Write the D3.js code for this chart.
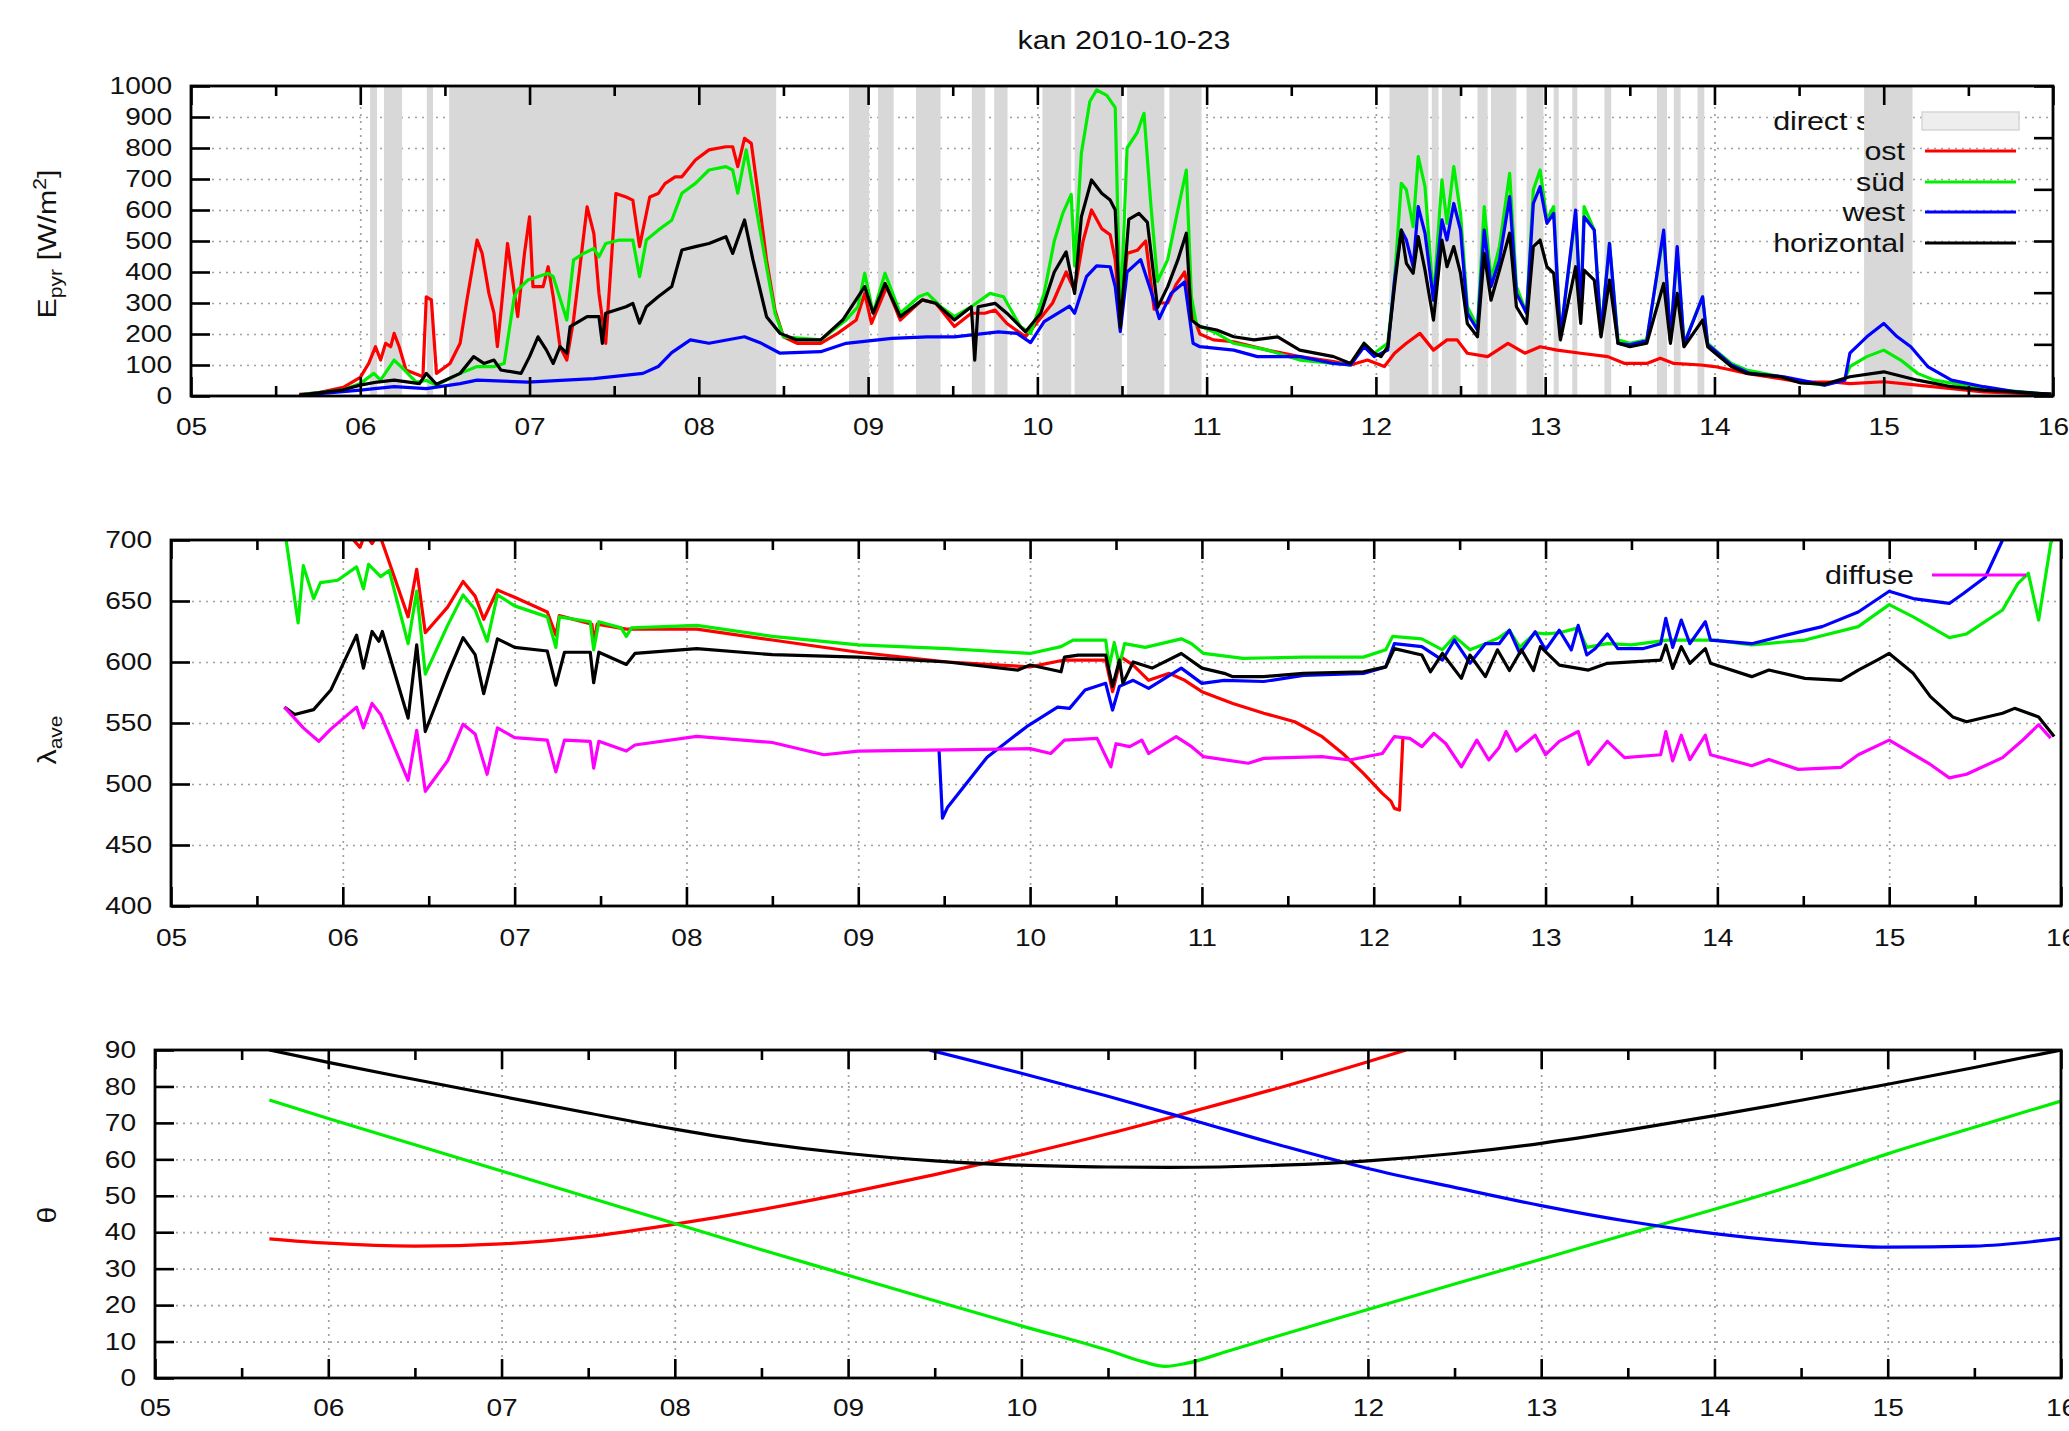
<!DOCTYPE html>
<html><head><meta charset="utf-8">
<script src="https://cdn.jsdelivr.net/npm/d3@7"></script>
<style>
html,body{margin:0;padding:0;background:#fff;}
svg{display:block;}
text{font-family:"Liberation Sans",Arial,Helvetica,sans-serif;fill:#111;}
</style>
</head><body>
<svg id="chart" width="2069" height="1431"></svg>
<script>
// ---------------- DATA ----------------
const titleText = "kan 2010-10-23";
const hourTicks = [5,6,7,8,9,10,11,12,13,14,15,16];
const hourLabels = ["05","06","07","08","09","10","11","12","13","14","15","16"];
const halfHourTicks = [5.5,6.5,7.5,8.5,9.5,10.5,11.5,12.5,13.5,14.5,15.5];
const topYTicks = [0,100,200,300,400,500,600,700,800,900,1000];
const topY2Ticks = [0,15,30,45,60,75,90];
const midYTicks = [400,450,500,550,600,650,700];
const botYTicks = [0,10,20,30,40,50,60,70,80,90];
const seriesNames = ["ost","süd","west","horizontal"];
const directSunName = "direct sun";
const diffuseName = "diffuse";

// direct sun intervals [start hour, end hour]
const directSun = [[6.058,6.099],[6.14,6.247],[6.393,6.43],[6.525,8.457],[8.887,9.006],[9.059,9.151],
 [9.283,9.428],[9.613,9.692],[9.745,9.824],[10.03,10.20],[10.22,10.50],[10.53,10.75],[10.78,10.97],
 [12.08,12.31],[12.33,12.37],[12.39,12.50],[12.60,12.66],[12.68,12.83],[12.89,12.99],[13.05,13.08],
 [13.16,13.19],[13.35,13.39],[13.66,13.72],[13.76,13.80],[13.90,13.94],[14.884,15.17]];

// top panel: E_pyr [W/m2]
const topOst = [[5.64,5],[5.75,10],[5.9,28],[6.0,60],[6.05,105],[6.09,159],[6.12,116],[6.15,170],[6.18,159],[6.2,202],[6.23,159],[6.27,84],[6.37,62],[6.39,320],[6.42,310],[6.45,73],[6.53,105],[6.59,170],[6.63,310],[6.69,503],[6.72,460],[6.76,331],[6.79,267],[6.81,159],[6.83,267],[6.87,492],[6.93,256],[6.97,460],[7.0,578],[7.02,353],[7.08,353],[7.11,417],[7.14,320],[7.18,159],[7.22,116],[7.26,245],[7.34,610],[7.38,524],[7.41,331],[7.45,170],[7.51,653],[7.57,642],[7.61,632],[7.65,482],[7.71,642],[7.76,653],[7.8,685],[7.86,707],[7.90,707],[7.98,761],[8.06,794],[8.16,804],[8.20,804],[8.23,740],[8.27,831],[8.31,815],[8.35,654],[8.40,439],[8.45,277],[8.50,191],[8.58,170],[8.72,170],[8.82,202],[8.93,245],[8.98,331],[9.02,234],[9.11,353],[9.19,245],[9.32,310],[9.40,299],[9.51,224],[9.61,267],[9.69,267],[9.75,277],[9.82,234],[9.93,191],[10.01,245],[10.09,300],[10.17,400],[10.22,340],[10.27,500],[10.32,600],[10.38,540],[10.43,520],[10.46,439],[10.49,230],[10.53,460],[10.59,470],[10.64,500],[10.69,280],[10.72,300],[10.77,300],[10.82,360],[10.87,400],[10.92,260],[10.96,200],[11.04,181],[11.16,175],[11.36,148],[11.55,127],[11.75,111],[11.85,100],[11.95,116],[12.05,95],[12.11,138],[12.18,170],[12.26,202],[12.34,148],[12.42,181],[12.48,181],[12.54,138],[12.66,127],[12.78,170],[12.88,138],[12.97,159],[13.07,148],[13.21,138],[13.37,127],[13.47,105],[13.60,105],[13.68,122],[13.76,105],[13.92,100],[14.0,95],[14.10,84],[14.19,73],[14.39,56],[14.51,45],[14.71,45],[14.80,40],[15.0,46],[15.2,35],[15.59,13],[15.99,5]];
const topSud = [[5.64,4],[5.9,20],[6.0,40],[6.08,73],[6.12,51],[6.2,116],[6.26,84],[6.33,45],[6.39,50],[6.45,35],[6.59,73],[6.69,95],[6.79,95],[6.85,105],[6.91,320],[6.93,342],[6.99,374],[7.11,396],[7.14,385],[7.22,245],[7.26,439],[7.32,460],[7.38,476],[7.41,449],[7.45,492],[7.53,503],[7.61,503],[7.65,385],[7.69,503],[7.76,535],[7.84,567],[7.90,654],[7.98,686],[8.06,729],[8.16,740],[8.20,729],[8.23,654],[8.28,794],[8.33,632],[8.40,417],[8.45,267],[8.50,191],[8.72,181],[8.87,245],[8.94,288],[8.98,396],[9.03,267],[9.10,396],[9.19,267],[9.30,320],[9.35,331],[9.43,288],[9.51,256],[9.61,288],[9.72,331],[9.80,320],[9.90,224],[9.96,202],[10.04,331],[10.1,500],[10.15,589],[10.2,650],[10.22,420],[10.26,783],[10.31,950],[10.35,987],[10.41,970],[10.46,930],[10.49,235],[10.53,800],[10.59,850],[10.63,912],[10.67,620],[10.71,370],[10.77,440],[10.83,600],[10.88,729],[10.91,320],[10.94,230],[11.06,202],[11.16,170],[11.36,148],[11.55,116],[11.75,105],[11.85,100],[11.93,170],[11.99,138],[12.07,170],[12.11,374],[12.15,686],[12.18,665],[12.22,546],[12.25,772],[12.29,675],[12.34,309],[12.39,697],[12.42,557],[12.46,740],[12.50,589],[12.54,288],[12.60,224],[12.64,611],[12.68,374],[12.73,482],[12.79,718],[12.83,353],[12.89,267],[12.93,665],[12.97,729],[13.01,568],[13.05,611],[13.09,191],[13.18,589],[13.21,267],[13.23,611],[13.29,535],[13.33,213],[13.38,492],[13.43,181],[13.50,170],[13.60,181],[13.70,525],[13.74,181],[13.78,471],[13.82,170],[13.93,320],[13.96,170],[14.0,150],[14.10,105],[14.19,84],[14.39,62],[14.51,45],[14.65,35],[14.77,55],[14.80,95],[14.90,127],[15.0,148],[15.10,116],[15.2,73],[15.3,51],[15.59,24],[15.99,5]];
const topWest = [[5.64,2],[6.0,19],[6.2,30],[6.39,24],[6.59,40],[6.69,51],[6.99,45],[7.38,56],[7.67,73],[7.76,95],[7.84,140],[7.95,181],[8.06,170],[8.27,191],[8.37,170],[8.48,138],[8.72,143],[8.87,170],[9.14,186],[9.35,191],[9.51,191],[9.77,207],[9.88,202],[9.96,172],[10.04,240],[10.19,290],[10.22,267],[10.29,385],[10.35,420],[10.43,417],[10.46,353],[10.49,208],[10.53,400],[10.61,440],[10.67,340],[10.72,250],[10.79,331],[10.87,368],[10.92,170],[10.96,159],[11.16,148],[11.3,127],[11.55,127],[11.75,105],[11.85,100],[11.93,159],[11.99,127],[12.07,148],[12.11,374],[12.15,535],[12.18,503],[12.22,417],[12.25,611],[12.29,525],[12.34,309],[12.39,568],[12.42,503],[12.46,621],[12.50,535],[12.54,267],[12.60,213],[12.64,535],[12.68,353],[12.73,439],[12.79,643],[12.83,331],[12.89,267],[12.93,621],[12.97,675],[13.01,557],[13.05,589],[13.09,191],[13.18,600],[13.21,267],[13.23,578],[13.29,535],[13.33,202],[13.38,492],[13.43,170],[13.50,165],[13.60,178],[13.70,535],[13.74,178],[13.78,482],[13.82,165],[13.93,320],[13.96,165],[14.0,148],[14.10,100],[14.21,73],[14.41,62],[14.61,40],[14.65,35],[14.77,51],[14.80,138],[14.90,191],[15.0,234],[15.08,191],[15.16,159],[15.26,95],[15.4,51],[15.59,30],[15.79,13],[15.99,5]];
const topHoriz = [[5.64,3],[5.9,20],[6.0,35],[6.1,45],[6.2,51],[6.35,40],[6.39,73],[6.45,38],[6.59,73],[6.67,127],[6.73,105],[6.79,116],[6.83,84],[6.95,73],[7.0,127],[7.05,191],[7.10,148],[7.14,105],[7.18,159],[7.22,138],[7.24,224],[7.34,256],[7.41,256],[7.43,170],[7.45,267],[7.57,288],[7.61,299],[7.65,235],[7.69,288],[7.76,320],[7.84,353],[7.90,471],[7.98,482],[8.06,492],[8.16,514],[8.20,460],[8.27,568],[8.32,439],[8.40,256],[8.48,202],[8.58,181],[8.72,181],[8.85,245],[8.98,353],[9.03,267],[9.10,363],[9.19,256],[9.32,310],[9.40,299],[9.51,245],[9.61,288],[9.63,116],[9.65,288],[9.75,299],[9.82,267],[9.93,207],[10.02,267],[10.1,400],[10.17,465],[10.22,331],[10.26,578],[10.32,697],[10.38,654],[10.43,632],[10.46,600],[10.49,220],[10.54,570],[10.60,589],[10.65,560],[10.71,285],[10.77,353],[10.83,439],[10.88,525],[10.91,245],[10.96,224],[11.06,213],[11.16,191],[11.28,181],[11.42,191],[11.55,148],[11.75,127],[11.85,105],[11.93,170],[11.99,138],[12.03,127],[12.07,159],[12.11,353],[12.15,535],[12.18,428],[12.22,396],[12.25,514],[12.29,406],[12.34,245],[12.39,503],[12.42,417],[12.46,482],[12.50,396],[12.54,234],[12.60,191],[12.64,460],[12.68,309],[12.73,406],[12.79,525],[12.83,288],[12.89,234],[12.93,482],[12.97,503],[13.01,417],[13.05,396],[13.09,181],[13.18,417],[13.21,234],[13.23,406],[13.29,374],[13.33,191],[13.38,374],[13.43,170],[13.50,159],[13.60,170],[13.70,363],[13.74,170],[13.78,331],[13.82,159],[13.93,245],[13.96,159],[14.0,140],[14.10,95],[14.19,73],[14.39,62],[14.51,42],[14.65,38],[14.80,62],[15.0,78],[15.2,51],[15.4,30],[15.59,19],[15.99,6]];

// middle panel: lambda_ave
const midOst = [[5.66,760],[5.95,720],[6.05,702],[6.10,694],[6.13,705],[6.17,697],[6.21,706],[6.25,690],[6.38,637],[6.43,676],[6.48,624],[6.61,645],[6.70,666],[6.77,654],[6.82,635],[6.90,659],[7.00,653],[7.19,641],[7.24,622],[7.26,638],[7.45,631],[7.46,615],[7.48,631],[7.65,627],[8.06,627],[8.5,618],[9.0,608],[9.52,600],[10.0,596],[10.2,601.6],[10.44,601.6],[10.48,575.7],[10.53,604],[10.6,597.5],[10.69,585],[10.81,590.7],[10.9,585],[11.0,575.7],[11.18,566],[11.36,558],[11.54,551],[11.7,538.8],[11.82,525],[11.94,508.7],[12.05,492.3],[12.10,486],[12.12,480],[12.15,478.7],[12.17,538.8]];
const midSud = [[5.66,720],[5.67,700],[5.74,632],[5.77,679],[5.83,652],[5.87,665],[5.97,667],[6.08,678],[6.12,660],[6.15,680],[6.22,670],[6.27,675],[6.38,615],[6.43,658],[6.48,590],[6.61,630],[6.70,655],[6.77,643],[6.84,617],[6.90,655],[7.00,646],[7.19,637],[7.24,612],[7.26,637],[7.44,633],[7.46,610],[7.49,633],[7.62,628],[7.65,621],[7.68,628],[8.06,630],[8.5,621],[9.0,614],[9.52,611],[10.0,607],[10.18,612.6],[10.25,618],[10.44,618],[10.46,596],[10.49,616],[10.52,597],[10.55,615],[10.67,612],[10.88,619],[10.94,615],[11.01,607],[11.24,603],[11.59,604],[11.94,604],[12.07,610],[12.11,621],[12.28,619],[12.40,610],[12.47,621],[12.56,610],[12.65,615],[12.73,620],[12.79,626],[12.85,612],[12.94,624],[13.0,623],[13.08,624],[13.19,628],[13.24,612],[13.36,615],[13.50,614],[13.71,618],[13.99,618],[14.2,614],[14.51,618],[14.82,629],[15.0,647],[15.14,637],[15.35,620],[15.45,623],[15.66,642.6],[15.75,664.5],[15.81,672.7],[15.87,634.4],[15.94,697],[16.0,720]];
const midWest = [[9.47,528],[9.49,472],[9.52,481],[9.75,522],[9.98,547],[10.16,563],[10.23,562],[10.32,577],[10.44,582.5],[10.48,560.6],[10.52,580],[10.6,585],[10.69,578.4],[10.88,595],[11.0,582.5],[11.13,585],[11.36,584],[11.59,589],[11.94,590.7],[12.07,596],[12.12,615],[12.28,612.6],[12.40,601.6],[12.47,618],[12.56,599],[12.65,615],[12.73,615],[12.79,626],[12.85,607],[12.94,624.8],[13.0,610],[13.08,626],[13.15,610],[13.19,630],[13.24,605.8],[13.29,611],[13.36,623],[13.42,611],[13.57,611],[13.67,615],[13.70,635.8],[13.74,612],[13.79,634.4],[13.84,615],[13.93,633],[13.96,618],[14.2,615],[14.4,622],[14.61,629],[14.82,641],[15.0,658],[15.14,652],[15.35,648],[15.43,656],[15.56,669.7],[15.66,700],[15.75,720]];
const midHoriz = [[5.66,563],[5.72,557],[5.83,561],[5.93,577],[6.08,622],[6.12,595],[6.17,625],[6.21,617],[6.23,625],[6.38,554],[6.43,614],[6.48,543],[6.61,590],[6.70,620],[6.77,606],[6.82,574],[6.90,619],[7.00,612],[7.19,609],[7.24,581],[7.29,608],[7.44,608],[7.46,583],[7.49,608],[7.65,598],[7.70,607],[8.06,611],[8.5,606],[9.0,604],[9.52,600],[9.93,593.4],[10.0,597.5],[10.18,592],[10.2,604],[10.28,605.7],[10.44,605.7],[10.48,580],[10.52,601.6],[10.54,582.5],[10.6,600],[10.71,595],[10.88,607],[11.0,595],[11.13,590.7],[11.18,588],[11.36,588],[11.59,590.7],[11.94,592],[12.07,596],[12.12,611],[12.28,605.7],[12.33,592],[12.40,607],[12.51,586.6],[12.56,605.7],[12.65,588],[12.72,610],[12.79,593],[12.86,610],[12.93,593],[12.97,612.6],[13.08,597.5],[13.25,593.4],[13.36,598.9],[13.67,601.6],[13.70,614],[13.74,594.8],[13.79,612.6],[13.84,598.9],[13.93,611],[13.96,598.9],[14.2,588],[14.3,593.4],[14.51,586.6],[14.72,585],[14.82,593.4],[14.93,601.6],[15.0,607],[15.14,590.7],[15.24,571.6],[15.37,555],[15.45,551],[15.66,558],[15.73,562],[15.87,555],[15.96,539]];
const midDiffuse = [[5.66,563],[5.77,546],[5.86,535],[5.93,545],[6.08,563],[6.12,546],[6.17,566],[6.22,557],[6.38,503],[6.43,544],[6.48,494],[6.61,519],[6.70,549],[6.77,541],[6.84,508],[6.90,546],[7.00,538],[7.19,536],[7.24,510],[7.29,536],[7.44,535],[7.46,513],[7.49,535],[7.65,527],[7.70,532],[8.06,539],[8.5,534],[8.8,524],[9.0,527],[9.52,528],[10.0,529],[10.12,525],[10.2,536],[10.39,537.4],[10.47,514],[10.5,533],[10.58,530.6],[10.65,536],[10.69,525],[10.85,538.8],[10.94,530.6],[11.01,522.4],[11.27,517],[11.36,521],[11.7,522.4],[11.86,519.7],[12.05,525],[12.12,538.8],[12.21,537.4],[12.28,530.6],[12.35,541.5],[12.42,533],[12.51,514],[12.6,536],[12.67,519.7],[12.73,530],[12.77,543],[12.83,527],[12.94,540],[13.0,524],[13.08,535],[13.19,543],[13.25,516],[13.36,535],[13.46,521.6],[13.67,524],[13.70,543],[13.74,519],[13.79,540],[13.84,520],[13.93,540],[13.96,524],[14.2,515],[14.3,520],[14.47,512],[14.72,513.7],[14.82,524],[15.0,536],[15.24,516],[15.35,505],[15.45,508],[15.66,521.6],[15.77,535],[15.87,548.6],[15.94,537.6]];

// bottom panel: theta
const botOst = [[5.66,38.2],[6.0,37],[6.5,36.2],[7.0,36.8],[7.5,38.8],[8.0,42.2],[8.5,46.2],[9.0,50.8],[9.5,55.8],[10.0,61.2],[10.5,67.0],[11.0,73.3],[11.5,79.8],[12.0,86.8],[12.22,90]];
const botSud = [[5.66,76.3],[6.0,71.2],[6.5,64],[7.0,56.8],[7.5,49.6],[8.0,42.4],[8.5,35.2],[9.0,28.2],[9.5,21.2],[10.0,14.3],[10.5,7.6],[10.7,4.5],[10.83,3.2],[10.95,4],[11.2,7.5],[11.5,11.8],[12.0,18.8],[12.5,25.8],[13.0,32.6],[13.5,39.5],[14.0,46.3],[14.5,53.5],[15.0,61.5],[15.5,68.8],[16.0,76]];
const botWest = [[9.47,90],[10.0,83.6],[10.5,77.3],[11.0,70.6],[11.5,63.8],[12.0,57.5],[12.5,52.3],[13.0,47.3],[13.5,43],[14.0,39.6],[14.5,37.2],[15.0,35.9],[15.5,36.2],[16.0,38.3]];
const botHoriz = [[5.66,90],[6.0,86.6],[6.5,81.9],[7.0,77.3],[7.5,72.7],[8.0,68.3],[8.5,64.5],[9.0,61.6],[9.5,59.6],[10.0,58.4],[10.5,57.9],[10.85,57.8],[11.5,58.4],[12.0,59.6],[12.5,61.6],[13.0,64.4],[13.5,68],[14.0,72],[14.5,76.2],[15.0,80.6],[15.5,85.2],[16.0,90]];

// ---------------- DRAWING ----------------
const FONT = '"Liberation Sans",Arial,Helvetica,sans-serif';
const SX = 1.17;
const COLORS = {ost:'#ff0000', sud:'#00ee00', west:'#0000ff', horiz:'#000000', diffuse:'#ff00ff'};
const LW = 3.2;
const svg = d3.select('#chart');
svg.append('rect').attr('width',2069).attr('height',1431).attr('fill','#fff');
const defs = svg.append('defs');

function txt(parent, x, y, anchor, size, rot) {
  const g = parent.append('g').attr('transform', `translate(${x},${y})` + (rot ? ` rotate(${rot})` : '') + ` scale(${SX},1)`);
  return g.append('text').attr('text-anchor', anchor).attr('font-size', size).attr('font-family', FONT).attr('fill','#111');
}

function makePanel(cfg) {
  const g = svg.append('g');
  const x = d3.scaleLinear().domain([hourTicks[0], hourTicks[hourTicks.length-1]]).range([cfg.left, cfg.right]);
  const y = d3.scaleLinear().domain([cfg.yTicks[0], cfg.yTicks[cfg.yTicks.length-1]]).range([cfg.bottom, cfg.top]);
  const w = cfg.right - cfg.left, h = cfg.bottom - cfg.top;
  defs.append('clipPath').attr('id','clip-'+cfg.id).append('rect')
    .attr('x',cfg.left).attr('y',cfg.top).attr('width',w).attr('height',h);

  // grid
  const grid = g.append('g');
  grid.append('g').attr('transform',`translate(0,${cfg.bottom})`)
    .call(d3.axisBottom(x).tickValues(hourTicks.slice(1,-1)).tickSize(-h).tickFormat(''));
  grid.append('g').attr('transform',`translate(${cfg.left},0)`)
    .call(d3.axisLeft(y).tickValues(cfg.yTicks.slice(1,-1)).tickSize(-w).tickFormat(''));
  grid.selectAll('.domain').remove();
  grid.selectAll('line').attr('stroke','#a0a0a0').attr('stroke-width',1.7).attr('stroke-dasharray','2,5');

  const under = g.append('g');
  const plot = g.append('g').attr('clip-path',`url(#clip-${cfg.id})`);
  const frame = g.append('g');
  const over = g.append('g');

  frame.append('rect').attr('x',cfg.left).attr('y',cfg.top).attr('width',w).attr('height',h)
    .attr('fill','none').attr('stroke','#000').attr('stroke-width',2.8);

  const axes = frame.append('g');
  const fmtX = d => hourLabels[hourTicks.indexOf(d)];
  axes.append('g').attr('transform',`translate(0,${cfg.bottom})`)
    .call(d3.axisBottom(x).tickValues(hourTicks).tickFormat(fmtX).tickSizeInner(-19).tickSizeOuter(0).tickPadding(cfg.xPad));
  axes.append('g').attr('transform',`translate(0,${cfg.top})`)
    .call(d3.axisTop(x).tickValues(hourTicks).tickFormat('').tickSizeInner(-19).tickSizeOuter(0));
  axes.append('g').attr('transform',`translate(0,${cfg.bottom})`)
    .call(d3.axisBottom(x).tickValues(halfHourTicks).tickFormat('').tickSizeInner(-10).tickSizeOuter(0));
  axes.append('g').attr('transform',`translate(0,${cfg.top})`)
    .call(d3.axisTop(x).tickValues(halfHourTicks).tickFormat('').tickSizeInner(-10).tickSizeOuter(0));
  axes.append('g').attr('transform',`translate(${cfg.left},0)`)
    .call(d3.axisLeft(y).tickValues(cfg.yTicks).tickFormat(d3.format('d')).tickSizeInner(-19).tickSizeOuter(0).tickPadding(19/SX));
  if (cfg.y2Ticks) {
    const y2 = d3.scaleLinear().domain([cfg.y2Ticks[0], cfg.y2Ticks[cfg.y2Ticks.length-1]]).range([cfg.bottom, cfg.top]);
    axes.append('g').attr('transform',`translate(${cfg.right},0)`)
      .call(d3.axisRight(y2).tickValues(cfg.y2Ticks).tickFormat('').tickSizeInner(-19).tickSizeOuter(0));
  }
  axes.selectAll('.domain').remove();
  axes.selectAll('line').attr('stroke','#000').attr('stroke-width',2.6);
  axes.selectAll('g').attr('font-size',24).attr('font-family',FONT);
  axes.selectAll('text').attr('fill','#111').attr('transform',`scale(${SX},1)`);

  return {g, x, y, under, plot, over};
}

const line = (p, curve) => d3.line().x(d => p.x(d[0])).y(d => p.y(d[1])).curve(curve || d3.curveLinear);
function drawSeries(p, data, color, curve) {
  p.plot.append('path').datum(data).attr('d', line(p, curve)).attr('fill','none')
    .attr('stroke', color).attr('stroke-width', LW).attr('stroke-linejoin','round');
}

// Title
txt(svg, 1124, 49, 'middle', 26).text(titleText);

// ---- Top panel ----
const P1 = makePanel({id:'top', left:191, right:2053, top:86, bottom:396, yTicks:topYTicks, y2Ticks:topY2Ticks, xPad:21.5});
const legRight = 1905, legX1 = 1925, legX2 = 2016;
const legRows = [121, 151, 182, 212, 243];
txt(P1.under, legRight, legRows[0]+9, 'end', 26).text(directSunName);
P1.under.append('rect').attr('x',legX1-3).attr('y',legRows[0]-9).attr('width',legX2-legX1+6).attr('height',18)
  .attr('fill','#eeeeee').attr('stroke','#d6d6d6').attr('stroke-width',1.5);
P1.under.selectAll('rect.sun').data(directSun).enter().append('rect').attr('class','sun')
  .attr('x', d => P1.x(d[0])).attr('width', d => P1.x(d[1]) - P1.x(d[0]))
  .attr('y', 86).attr('height', 396-86).attr('fill','#d8d8d8');
drawSeries(P1, topOst, COLORS.ost);
drawSeries(P1, topSud, COLORS.sud);
drawSeries(P1, topWest, COLORS.west);
drawSeries(P1, topHoriz, COLORS.horiz);
const topColors = [COLORS.ost, COLORS.sud, COLORS.west, COLORS.horiz];
seriesNames.forEach((n,i) => {
  txt(P1.over, legRight, legRows[i+1]+9, 'end', 26).text(n);
  P1.over.append('line').attr('x1',legX1).attr('x2',legX2).attr('y1',legRows[i+1]).attr('y2',legRows[i+1])
    .attr('stroke', topColors[i]).attr('stroke-width', LW);
});
{
  const t = txt(svg, 56, 244, 'middle', 26, -90);
  t.append('tspan').text('E');
  t.append('tspan').attr('font-size',18).attr('dy',6).text('pyr');
  t.append('tspan').attr('dy',-6).text(' [W/m');
  t.append('tspan').attr('font-size',18).attr('dy',-10).text('2');
  t.append('tspan').attr('dy',10).text(']');
}

// ---- Middle panel ----
const P2 = makePanel({id:'mid', left:171, right:2061, top:540, bottom:906, yTicks:midYTicks, xPad:22.5});
drawSeries(P2, midOst, COLORS.ost);
drawSeries(P2, midSud, COLORS.sud);
drawSeries(P2, midWest, COLORS.west);
drawSeries(P2, midHoriz, COLORS.horiz);
drawSeries(P2, midDiffuse, COLORS.diffuse);
txt(P2.over, 1914, 584, 'end', 26).text(diffuseName);
P2.over.append('line').attr('x1',1932).attr('x2',2026).attr('y1',575).attr('y2',575)
  .attr('stroke', COLORS.diffuse).attr('stroke-width', LW);
{
  const t = txt(svg, 56, 740, 'middle', 26, -90);
  t.append('tspan').text('λ');
  t.append('tspan').attr('font-size',18).attr('dy',6).text('ave');
}

// ---- Bottom panel ----
const P3 = makePanel({id:'bot', left:155, right:2061, top:1050, bottom:1378, yTicks:botYTicks, xPad:20.5});
drawSeries(P3, botOst, COLORS.ost, d3.curveMonotoneX);
drawSeries(P3, botSud, COLORS.sud, d3.curveMonotoneX);
drawSeries(P3, botWest, COLORS.west, d3.curveMonotoneX);
drawSeries(P3, botHoriz, COLORS.horiz, d3.curveMonotoneX);
txt(svg, 56, 1215, 'middle', 26, -90).text('θ');
</script>
</body></html>
